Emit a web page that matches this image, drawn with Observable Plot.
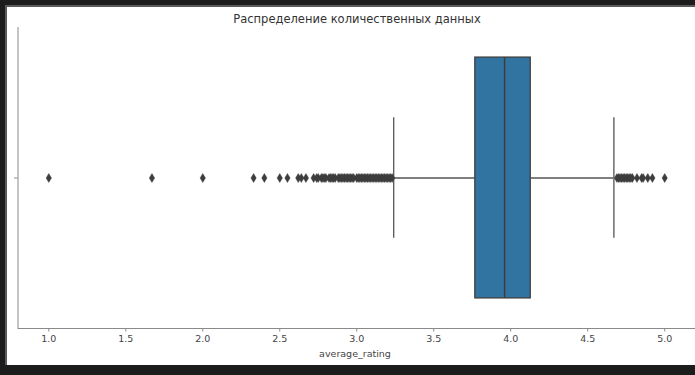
<!DOCTYPE html>
<html><head><meta charset="utf-8">
<script src="https://cdn.jsdelivr.net/npm/d3@7"></script>
<script src="https://cdn.jsdelivr.net/npm/@observablehq/plot@0.6"></script>
<style>
html,body{margin:0;padding:0;background:#1c1c1c;width:695px;height:375px;overflow:hidden;font-family:"DejaVu Sans",sans-serif;}
#panel{position:absolute;left:5px;top:5px;width:690px;height:360px;background:#fff;border-left:2px solid #5a5a5a;border-top:2px solid #5a5a5a;box-sizing:border-box;}
#title{position:absolute;left:0;width:714px;top:12px;text-align:center;font-size:11.5px;line-height:14px;color:#333;}
#xlabel{position:absolute;left:0;width:710px;top:348px;text-align:center;font-size:9.5px;line-height:12px;color:#444;}
#chart{position:absolute;left:0;top:0;}
</style>
</head><body>
<div id="panel"></div>
<div id="chart"></div>
<div id="title">Распределение количественных данных</div>
<div id="xlabel">average_rating</div>
<script>
// Box statistics (average_rating)
const q1 = 3.77;
const median = 3.96;
const q3 = 4.13;
const whiskerLow = 3.24;
const whiskerHigh = 4.67;
// Outliers (fliers)
const outliersLow = [1.0, 1.67, 2.0, 2.33, 2.4, 2.5, 2.55, 2.62, 2.64, 2.67, 2.72, 2.74, 2.75, 2.77, 2.78, 2.79, 2.8,
  2.82, 2.83, 2.84, 2.85, 2.86, 2.88, 2.89, 2.9, 2.91, 2.92, 2.93, 2.94, 2.95, 2.96, 2.97, 2.98, 3.0, 3.01, 3.02, 3.03,
  3.04, 3.05, 3.06, 3.07, 3.08, 3.09, 3.1, 3.11, 3.12, 3.13, 3.14, 3.15, 3.16, 3.17, 3.18, 3.19, 3.2, 3.21, 3.22, 3.23];
const outliersHigh = [4.69, 4.7, 4.71, 4.72, 4.73, 4.74, 4.75, 4.76, 4.77, 4.78, 4.79, 4.82, 4.85, 4.86, 4.89, 4.92, 5.0];
const xTicks = [1.0, 1.5, 2.0, 2.5, 3.0, 3.5, 4.0, 4.5, 5.0];

const outliers = outliersLow.concat(outliersHigh);
const thinDiamond = {
  draw(ctx) {
    ctx.moveTo(0, -4.5); ctx.lineTo(2.7, 0); ctx.lineTo(0, 4.5); ctx.lineTo(-2.7, 0); ctx.closePath();
  }
};
const edge = "#3d3d3d";
const whisk = "#555";
const spine = "#8a8a8a";

const chart = Plot.plot({
  width: 695, height: 375,
  marginLeft: 17.5, marginRight: 0, marginTop: 27, marginBottom: 47,
  style: {background: "transparent", fontFamily: "DejaVu Sans", fontSize: "9.5px", color: "#444", overflow: "visible"},
  x: {domain: [0.8, 5.2]},
  y: {domain: [-0.5, 0.5]},
  marks: [
    Plot.ruleY([0], {x1: whiskerLow, x2: q1, stroke: whisk, strokeWidth: 1.3}),
    Plot.ruleY([0], {x1: q3, x2: whiskerHigh, stroke: whisk, strokeWidth: 1.3}),
    Plot.ruleX([whiskerLow, whiskerHigh], {y1: -0.2, y2: 0.2, stroke: whisk, strokeWidth: 1.3}),
    Plot.rect([0], {x1: q1, x2: q3, y1: -0.4, y2: 0.4, fill: "#3274a1", stroke: edge, strokeWidth: 1.3}),
    Plot.ruleX([median], {y1: -0.4, y2: 0.4, stroke: edge, strokeWidth: 1.5}),
    Plot.dot(outliers, {x: d => d, y: 0, symbol: thinDiamond, fill: edge, stroke: edge, strokeWidth: 0.4}),
    Plot.ruleX([0.8], {stroke: spine, strokeWidth: 1}),
    Plot.ruleY([-0.5], {stroke: spine, strokeWidth: 1}),
    Plot.axisX({ticks: xTicks, tickFormat: d3.format(".1f"), tickSize: 3.5, tickPadding: 3, stroke: spine, label: null}),
    Plot.axisY({ticks: [0], tickFormat: () => "", tickSize: 3.5, stroke: spine, label: null})
  ]
});
document.getElementById("chart").appendChild(chart);
</script>
</body></html>
